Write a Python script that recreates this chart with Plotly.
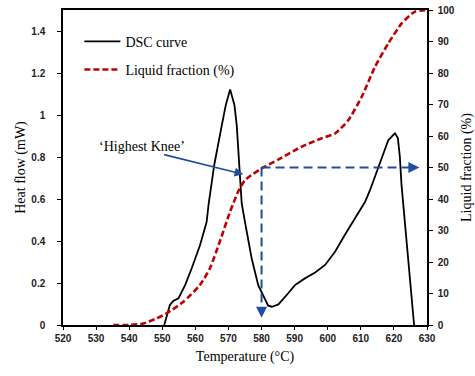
import plotly.graph_objects as go

# ---- data ----
dsc_T = [550.6, 552.3, 553.3, 554.9, 556.9, 558.9, 561.4, 563.4, 564.0, 565.7, 568.0, 569.2,
         570.5, 571.8, 572.5, 573.3, 574.0, 575.0, 577.0, 579.0, 581.0, 582.0, 583.1, 585.1,
         587.6, 590.1, 593.1, 596.2, 599.2, 602.2, 605.2, 608.2, 611.3, 612.8, 615.3, 618.3,
         620.3, 621.2, 621.8, 622.3, 626.1]
dsc_H = [0.0, 0.095, 0.114, 0.127, 0.19, 0.27, 0.38, 0.49, 0.575, 0.762, 0.952, 1.048,
         1.122, 1.048, 0.952, 0.762, 0.58, 0.49, 0.318, 0.19, 0.119, 0.092, 0.087, 0.098,
         0.143, 0.19, 0.222, 0.25, 0.286, 0.349, 0.43, 0.508, 0.587, 0.643, 0.754, 0.88,
         0.913, 0.89, 0.8, 0.667, 0.0]

liq_T = [535.2, 540.2, 544.3, 548.3, 551.3, 556.4, 561.4, 564.4, 567.4, 570.5, 573.0, 575.0,
         577.5, 580.0, 585.0, 592.1, 598.2, 602.2, 606.2, 610.3, 614.3, 618.3, 622.4, 626.4, 629.9]
liq_L = [0.0, 0.0, 0.5, 2.1, 3.7, 7.4, 12.7, 18.0, 26.5, 36.0, 42.5, 46.0,
         48.0, 49.7, 52.5, 56.6, 59.3, 60.8, 65.0, 72.5, 82.0, 89.4, 95.8, 99.5, 100.0]

x_ticks = [520, 530, 540, 550, 560, 570, 580, 590, 600, 610, 620, 630]
y_ticks = [0, 0.2, 0.4, 0.6, 0.8, 1.0, 1.2, 1.4]
y_tick_text = ["0", "0.2", "0.4", "0.6", "0.8", "1", "1.2", "1.4"]
y2_ticks = [0, 10, 20, 30, 40, 50, 60, 70, 80, 90, 100]

knee_T = 580
knee_L = 50
h_arrow_end_T = 627.7
v_arrow_end_H = 0.035
label_arrow_tail = (550.1, 0.813)
label_arrow_tip = (574.5, 0.718)
label_pos = (543.9, 0.852)

BLUE = "#1f4e9c"
RED = "#c00000"
SERIF = "Liberation Serif, Times New Roman, serif"
SANS = "Liberation Sans, Arial, sans-serif"

fig = go.Figure()
fig.add_trace(go.Scatter(x=dsc_T, y=dsc_H, mode="lines", name="DSC curve",
                         line=dict(color="black", width=1.8), legendgroup="a"))
fig.add_trace(go.Scatter(x=liq_T, y=liq_L, mode="lines", name="Liquid fraction (%)", yaxis="y2",
                         line=dict(color=RED, width=2.6, dash="6px,3px", shape="spline", smoothing=0.6),
                         legendgroup="b"))
# blue dashed guide lines
fig.add_trace(go.Scatter(x=[knee_T, h_arrow_end_T - 2], y=[knee_L, knee_L], mode="lines", yaxis="y2",
                         line=dict(color=BLUE, width=2, dash="9px,5px"), showlegend=False, hoverinfo="skip"))
fig.add_trace(go.Scatter(x=[knee_T, knee_T], y=[knee_L, 4], mode="lines", yaxis="y2",
                         line=dict(color=BLUE, width=2, dash="9px,5px"), showlegend=False, hoverinfo="skip"))

annotations = [
    dict(x=h_arrow_end_T, y=knee_L, xref="x", yref="y2", ax=-9, ay=0, text="", showarrow=True,
         arrowhead=2, arrowsize=1.1, arrowwidth=2, arrowcolor=BLUE, standoff=0),
    dict(x=knee_T, y=v_arrow_end_H, xref="x", yref="y", ax=0, ay=-9, text="", showarrow=True,
         arrowhead=2, arrowsize=1.1, arrowwidth=2, arrowcolor=BLUE, standoff=0),
    dict(x=label_arrow_tip[0], y=label_arrow_tip[1], xref="x", yref="y",
         ax=label_arrow_tail[0], ay=label_arrow_tail[1], axref="x", ayref="y",
         text="", showarrow=True, arrowhead=2, arrowsize=1.1, arrowwidth=1.6, arrowcolor=BLUE, standoff=0),
    dict(x=label_pos[0], y=label_pos[1], xref="x", yref="y", text="\u2018Highest Knee\u2019",
         showarrow=False, font=dict(family=SERIF, size=14, color="black")),
]

tickfont = dict(family=SANS, size=10, color="#222222", weight="bold")
fig.update_layout(
    width=475, height=376,
    margin=dict(l=63, r=48, t=10, b=51, autoexpand=False),
    paper_bgcolor="white", plot_bgcolor="white",
    annotations=annotations,
    legend=dict(x=0.045, y=0.95, xanchor="left", yanchor="top", bgcolor="rgba(0,0,0,0)",
                font=dict(family=SERIF, size=14, color="black"), traceorder="grouped",
                tracegroupgap=7, itemwidth=36),
    xaxis=dict(range=[520, 630], tickvals=x_ticks, ticks="outside", ticklen=3, tickcolor="black",
               showline=True, linecolor="black", linewidth=1.5, mirror=True, showgrid=False,
               zeroline=False, tickfont=tickfont, automargin=False,
               title=dict(text="Temperature (°C)", font=dict(family=SERIF, size=14, color="black"),
                          standoff=8)),
    yaxis=dict(range=[0, 1.5], tickvals=y_ticks, ticktext=y_tick_text, ticks="outside", ticklen=4,
               tickcolor="black", showline=True, linecolor="black", linewidth=1.5, showgrid=False,
               zeroline=False, tickfont=tickfont, ticklabelstandoff=10, automargin=False,
               title=dict(text="Heat flow (mW)", font=dict(family=SERIF, size=14, color="black"),
                          standoff=2)),
    yaxis2=dict(range=[0, 100], tickvals=y2_ticks, overlaying="y", side="right", ticks="outside",
                ticklen=4, tickcolor="black", showline=True, linecolor="black", linewidth=1.5,
                showgrid=False, zeroline=False, tickfont=tickfont, automargin=False,
                ticklabelstandoff=3,
                title=dict(text="Liquid fraction (%)", font=dict(family=SERIF, size=14, color="black"),
                           standoff=9)),
)

fig.write_html("out.html", config={"displayModeBar": False},
               post_script="document.body.style.margin='0';")
